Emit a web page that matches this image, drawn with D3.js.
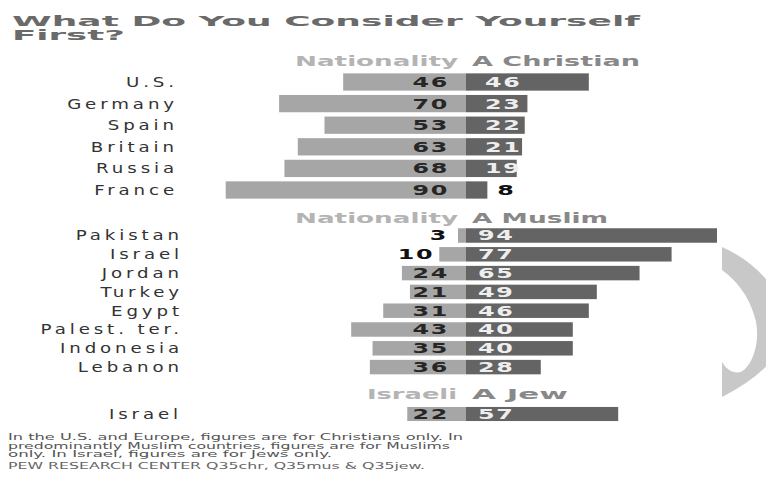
<!DOCTYPE html>
<html>
<head>
<meta charset="utf-8">
<script src="https://cdn.jsdelivr.net/npm/d3@7"></script>
<style>
  body { margin: 0; background: #fff; }
  svg { display: block; font-family: "DejaVu Sans", Verdana, sans-serif; }
</style>
</head>
<body>
<div id="container"></div>
<script>
// what do you consider yourself first? nationality vs religion, diverging bars

const christianCountries = ["U.S.", "Germany", "Spain", "Britain", "Russia", "France"],
      christianNation = [46, 70, 53, 63, 68, 90],
      christianReligion = [46, 23, 22, 21, 19, 8];

const muslimCountries = ["Pakistan", "Israel", "Jordan", "Turkey", "Egypt", "Palest. ter.", "Indonesia", "Lebanon"],
      muslimNation = [3, 10, 24, 21, 31, 43, 35, 36],
      muslimReligion = [94, 77, 65, 49, 46, 40, 40, 28];

const jewCountries = ["Israel"],
      jewNation = [22],
      jewReligion = [57];

const titleLines = ["What Do You Consider Yourself", "First?"];
const notes = ["In the U.S. and Europe, figures are for Christians only.  In",
               "predominantly Muslim countries, figures are for Muslims",
               "only.  In Israel, figures are for Jews only."];
const source = "PEW RESEARCH  CENTER Q35chr, Q35mus & Q35jew.";

const width = 766,
      height = 481,
      cx = 466;

const lightColor = "#a6a6a6",
      darkColor = "#646464";

// build the three blocks from the arrays
const sections = [
    {left: "Nationality", right: "A Christian", countries: christianCountries,
     nation: christianNation, religion: christianReligion,
     headY: 66, leftX: 295, leftLen: 163, rightLen: 168,
     range: [71.2, 200.8], pad: 0.2, labelRight: 178, darkX: 485, shift: 5},
    {left: "Nationality", right: "A Muslim", countries: muslimCountries,
     nation: muslimNation, religion: muslimReligion,
     headY: 223, leftX: 295, leftLen: 163, rightLen: 136,
     range: [226.1, 376.5], pad: 0.23, labelRight: 183, darkX: 478, shift: 4.8},
    {left: "Israeli", right: "A Jew", countries: jewCountries,
     nation: jewNation, religion: jewReligion,
     headY: 399, leftX: 367, leftLen: 90, rightLen: 96,
     range: [404.5, 423.5], pad: 0.26, labelRight: 182, darkX: 478, shift: 4.8}
];

const x = d3.scaleLinear()
    .domain([0, 100])
    .range([0, 267]);

const svg = d3.select("#container").append("svg")
    .attr("width", width)
    .attr("height", height);

svg.append("rect")
    .attr("width", width)
    .attr("height", height)
    .attr("fill", "#fff");

// title
svg.append("g").selectAll("text")
    .data(titleLines)
    .enter()
    .append("text")
    .attr("x", 12)
    .attr("y", (d, i) => 25.5 + i * 14.5)
    .attr("textLength", (d, i) => i === 0 ? 628 : 113)
    .attr("lengthAdjust", "spacingAndGlyphs")
    .style("font-size", "14px")
    .style("font-weight", "bold")
    .attr("fill", "#6a6a6a")
    .text(d => d);

sections.forEach(function(s){

    const g = svg.append("g");

    const y = d3.scaleBand()
	.domain(d3.range(s.countries.length))
	.range(s.range)
	.paddingInner(s.pad)
	.paddingOuter(s.pad / 2);

    const bw = y.bandwidth();

    // header
    g.append("text")
	.attr("x", s.leftX)
	.attr("y", s.headY)
	.attr("textLength", s.leftLen)
	.attr("lengthAdjust", "spacingAndGlyphs")
	.style("font-size", "14px")
	.style("font-weight", "bold")
	.attr("fill", "#b4b4b4")
	.text(s.left);

    g.append("text")
	.attr("x", cx + 6)
	.attr("y", s.headY)
	.attr("textLength", s.rightLen)
	.attr("lengthAdjust", "spacingAndGlyphs")
	.style("font-size", "14px")
	.style("font-weight", "bold")
	.attr("fill", "#888")
	.text(s.right);

    const rows = g.selectAll("g.row")
	.data(s.countries.map((c, i) => ({c: c, i: i, n: s.nation[i], r: s.religion[i]})))
	.enter()
	.append("g")
	.classed("row", true);

    rows.append("rect")
	.attr("x", d => cx - x(d.n))
	.attr("y", d => y(d.i))
	.attr("width", d => x(d.n))
	.attr("height", bw)
	.attr("fill", lightColor);

    rows.append("rect")
	.attr("x", cx)
	.attr("y", d => y(d.i))
	.attr("width", d => x(d.r))
	.attr("height", bw)
	.attr("fill", darkColor);

    const base = d => y(d.i) + bw / 2 + s.shift;
    const outside = d => x(d.n) < 30;

    // country names
    rows.append("text")
	.attr("transform", d => "translate(" + s.labelRight + "," + base(d) + ") scale(1.3,1)")
	.attr("text-anchor", "end")
	.style("font-size", "14px")
	.style("letter-spacing", "3px")
	.attr("fill", "#333")
	.text(d => d.c);

    // nationality values, pushed left of the bar when it is too short
    rows.append("text")
	.attr("transform", function(d){
	    var xe = outside(d) ? Math.min(448, cx - x(d.n) - 5) : 449;
	    return "translate(" + xe + "," + base(d) + ") scale(1.7,1)";
	})
	.attr("text-anchor", "end")
	.style("font-size", "14px")
	.style("font-weight", "bold")
	.style("letter-spacing", "1px")
	.attr("fill", d => outside(d) ? "#111" : "#262626")
	.text(d => d.n);

    // religion values
    rows.append("text")
	.attr("transform", function(d){
	    var xs = d.r < 10 ? cx + x(d.r) + 10 : s.darkX;
	    return "translate(" + xs + "," + base(d) + ") scale(1.7,1)";
	})
	.style("font-size", "14px")
	.style("font-weight", "bold")
	.style("letter-spacing", "1px")
	.attr("fill", d => d.r < 10 ? "#111" : "#eee")
	.text(d => d.r);
});

// notes
svg.append("g").selectAll("text")
    .data(notes)
    .enter()
    .append("text")
    .attr("x", 8)
    .attr("y", (d, i) => 440 + i * 8.5)
    .attr("textLength", (d, i) => [455, 442, 324][i])
    .attr("lengthAdjust", "spacingAndGlyphs")
    .style("font-size", "9.5px")
    .attr("fill", "#555")
    .text(d => d);

svg.append("text")
    .attr("x", 8)
    .attr("y", 469)
    .attr("textLength", 417)
    .attr("lengthAdjust", "spacingAndGlyphs")
    .style("font-size", "9.5px")
    .attr("fill", "#666")
    .text(source);

// grey crescent at the right edge
svg.append("path")
    .attr("d", "M722,247 Q770,268 790,320 Q785,365 722,397 L722,362 C728,372 738,376 745,369 C756,358 760,335 755,318 C749,296 737,281 722,270 Z")
    .attr("fill", "#c8c8c8");

</script>
</body>
</html>
